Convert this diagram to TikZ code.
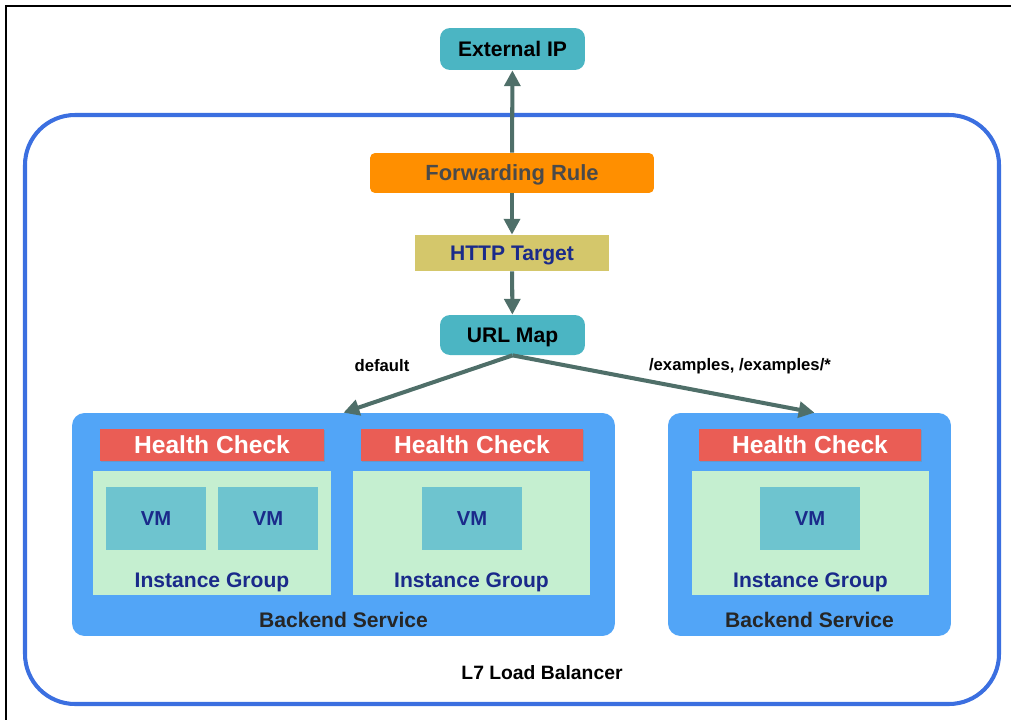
\documentclass[tikz,border=0pt]{standalone}
\usepackage{fontspec}
\setmainfont{Liberation Sans}
\usetikzlibrary{arrows.meta,shadows}

\definecolor{tealbox}{HTML}{4BB5C3}
\definecolor{fwdorange}{HTML}{FF8F00}
\definecolor{httpolive}{HTML}{D4C76B}
\definecolor{lbblue}{HTML}{3B6FE0}
\definecolor{beblue}{HTML}{52A5F7}
\definecolor{hcred}{HTML}{EA5D55}
\definecolor{iggreen}{HTML}{C5EFD0}
\definecolor{vmteal}{HTML}{6EC4CF}
\definecolor{arrowgray}{HTML}{4F6F69}
\definecolor{navytext}{HTML}{1A2A8A}
\definecolor{graytext}{HTML}{4A4A4A}

\begin{document}
\begin{tikzpicture}[x=0.02cm, y=-0.02cm, >={Triangle[length=9pt,width=9pt]},
    caps/.style={text height=8.6pt, text depth=0pt},
    tealnode/.style={caps, fill=tealbox, rounded corners=0.2cm, minimum width=2.9cm, font=\bfseries\fontsize{12}{14}\selectfont},
    backend/.style={fill=beblue, rounded corners=0.25cm, minimum height=4.46cm},
    hcbox/.style={fill=hcred, minimum height=0.64cm, text=white, text height=10pt, text depth=0pt,
        font=\bfseries\fontsize{14}{16}\selectfont,
        drop shadow={shadow xshift=0.6pt, shadow yshift=-0.6pt, opacity=0.35}},
    igbox/.style={fill=iggreen, minimum width=4.75cm, minimum height=2.48cm},
    vmbox/.style={fill=vmteal, minimum width=2cm, minimum height=1.26cm, text=navytext, text height=8.2pt, text depth=0pt,
        font=\bfseries\fontsize{11.5}{13}\selectfont},
    iglabel/.style={caps, text=navytext, font=\bfseries\fontsize{12}{14}\selectfont},
    belabel/.style={caps, text=black!85, font=\bfseries\fontsize{12}{14}\selectfont},
    rulelabel/.style={font=\bfseries\fontsize{9.5}{11}\selectfont},
    link/.style={->, draw=arrowgray, line width=2.3pt}]

    \useasboundingbox (0,0) rectangle (1011,720);

    % frame
    \draw[line width=1.2pt] (6,720) -- (6,6) -- (1011,6);

    % load balancer
    \draw[lbblue, line width=2.3pt, rounded corners=1cm] (25,115) rectangle (999,704);
    \node[caps, font=\bfseries\fontsize{11}{13}\selectfont] (lb) at (542,672) {L7 Load Balancer};

    \node[tealnode, minimum height=0.84cm] (ext) at (512.5,49) {External IP};
    \node[caps, fill=fwdorange, rounded corners=0.1cm, minimum width=5.68cm, minimum height=0.8cm,
        text=graytext, font=\bfseries\fontsize{12.5}{14}\selectfont] (fwd) at (512,173) {Forwarding Rule};
    \node[caps, fill=httpolive, minimum width=3.88cm, minimum height=0.72cm, text=navytext,
        font=\bfseries\fontsize{12}{14}\selectfont] (http) at (512,253) {HTTP Target};
    \node[tealnode, minimum height=0.8cm] (url) at (512.5,335) {URL Map};

    % backend services
    \node[backend, minimum width=10.86cm] (be1) at (343.5,524.5) {};
    \node[backend, minimum width=5.66cm] (be2) at (809.5,524.5) {};

    \node[hcbox, minimum width=4.48cm] (hc1) at (212,445) {Health Check};
    \node[hcbox, minimum width=4.44cm] (hc2) at (472,445) {Health Check};
    \node[hcbox, minimum width=4.44cm] (hc3) at (810,445) {Health Check};

    \node[igbox] (ig1) at (212,533) {};
    \node[igbox] (ig2) at (471.5,533) {};
    \node[igbox] (ig3) at (810.5,533) {};

    \node[vmbox] (vm1) at (156,518.5) {VM};
    \node[vmbox] (vm2) at (268,518.5) {VM};
    \node[vmbox] (vm3) at (472,518.5) {VM};
    \node[vmbox] (vm4) at (810,518.5) {VM};

    \node[iglabel] (igl1) at (212,580) {Instance Group};
    \node[iglabel] (igl2) at (471.5,580) {Instance Group};
    \node[iglabel] (igl3) at (810.5,580) {Instance Group};

    \node[belabel] (bel1) at (343.5,620) {Backend Service};
    \node[belabel] (bel2) at (809.5,620) {Backend Service};

    % connections
    \draw[link] (fwd) -- (ext);
    \draw[link] (fwd) -- (http);
    \draw[link] (http) -- (url);
    \draw[link] (url.south) -- (be1.north);
    \draw[link] (url.south) -- ([xshift=0.1cm]be2.north);

    \node[rulelabel] (deflabel) at (382,366) {default};
    \node[rulelabel] (exlabel) at (740,366) {/examples, /examples/*};
\end{tikzpicture}
\end{document}
